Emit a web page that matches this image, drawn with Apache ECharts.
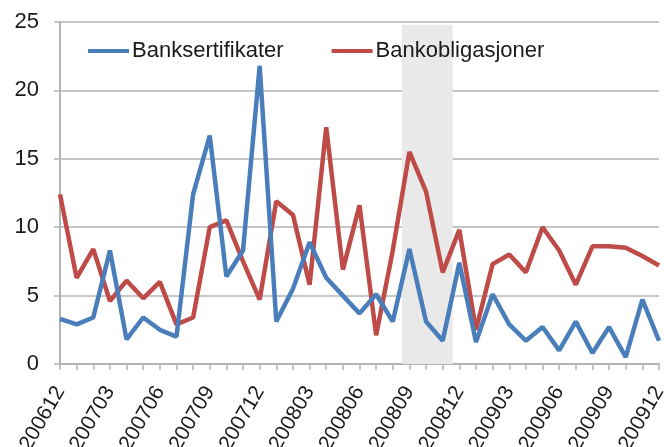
<!DOCTYPE html>
<html>
<head>
<meta charset="utf-8">
<script src="https://cdn.jsdelivr.net/npm/echarts@6/dist/echarts.min.js"></script>
<style>
html,body{margin:0;padding:0;background:#fff;}
#c{width:664px;height:447px;}
</style>
</head>
<body>
<div id="c"></div>
<script>
const months = ['200612','200701','200702','200703','200704','200705','200706','200707','200708','200709','200710','200711','200712',
'200801','200802','200803','200804','200805','200806','200807','200808','200809','200810','200811','200812',
'200901','200902','200903','200904','200905','200906','200907','200908','200909','200910','200911','200912'];
const banksertifikater = [3.3,2.9,3.4,8.3,1.8,3.4,2.5,2.0,12.4,16.7,6.4,8.3,21.8,3.1,5.5,8.9,6.3,5.0,3.7,5.1,3.1,8.4,3.1,1.7,7.4,1.6,5.1,2.9,1.7,2.7,1.0,3.1,0.8,2.7,0.5,4.7,1.7];
const bankobligasjoner = [12.4,6.3,8.4,4.6,6.1,4.8,6.0,2.9,3.4,10.0,10.5,7.5,4.7,11.9,10.9,5.8,17.3,6.9,11.6,2.1,8.3,15.5,12.6,6.7,9.8,2.5,7.3,8.0,6.7,10.0,8.3,5.8,8.6,8.6,8.5,7.9,7.2];
const shadedPeriod = ['200809','200811'];
const shadeHeight = 24.8;

const s0 = months.indexOf(shadedPeriod[0]) - 0.45;
const s1 = months.indexOf(shadedPeriod[1]) + 0.6;
const FONT = 'Liberation Sans';

const chart = echarts.init(document.getElementById('c'));
chart.setOption({
  animation: false,
  textStyle: {fontFamily: FONT},
  grid: {left: 60, right: 5, top: 22, bottom: 83, containLabel: false, outerBoundsMode: 'none'},
  legend: {
    left: 88, top: 40, padding: 0,
    icon: 'rect', itemWidth: 41, itemHeight: 4, itemGap: 48,
    textStyle: {fontFamily: FONT, fontSize: 22, color: '#1a1a1a', padding: [0,0,0,-2]},
    data: ['Banksertifikater', 'Bankobligasjoner']
  },
  xAxis: [{
    type: 'category',
    data: months,
    boundaryGap: false,
    axisLine: {lineStyle: {color: '#b3b3b3', width: 2}},
    axisTick: {interval: 0, length: 6, lineStyle: {color: '#b3b3b3', width: 1.5}},
    axisLabel: {interval: 2, rotate: 60, margin: 24, fontSize: 21, color: '#1a1a1a', fontFamily: FONT},
    splitLine: {show: false}
  }, {
    type: 'value', min: 0, max: months.length - 1, show: false
  }],
  yAxis: {
    type: 'value', min: 0, max: 25, interval: 5,
    axisLine: {show: true, lineStyle: {color: '#b3b3b3', width: 2}},
    axisTick: {show: true, length: 6, lineStyle: {color: '#b3b3b3', width: 1.5}},
    axisLabel: {margin: 21, fontSize: 22, color: '#1a1a1a', fontFamily: FONT},
    splitLine: {lineStyle: {color: '#b3b3b3', width: 1.5}}
  },
  series: [{
    type: 'line', xAxisIndex: 1, data: [], silent: true,
    markArea: {
      silent: true,
      itemStyle: {color: '#e9e9e9'},
      data: [[{xAxis: s0, yAxis: 0}, {xAxis: s1, yAxis: shadeHeight}]]
    },
    z: 0
  }, {
    name: 'Banksertifikater', type: 'line', data: banksertifikater,
    symbol: 'none', lineStyle: {color: '#4a7ebb', width: 4.5}, itemStyle: {color: '#4a7ebb'}, z: 3
  }, {
    name: 'Bankobligasjoner', type: 'line', data: bankobligasjoner,
    symbol: 'none', lineStyle: {color: '#be4b48', width: 4.5}, itemStyle: {color: '#be4b48'}, z: 2
  }]
});
</script>
</body>
</html>
